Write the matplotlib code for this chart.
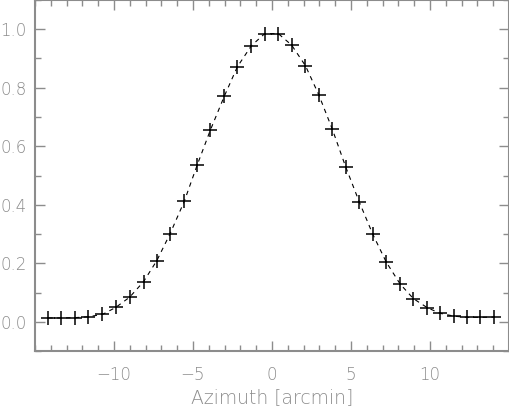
import numpy as np
import matplotlib
matplotlib.use("Agg")
import matplotlib.pyplot as plt
from matplotlib.ticker import MultipleLocator

# Beam profile
azimuth = [-14.16, -13.36, -12.48, -11.64, -10.73, -9.89, -9.01, -8.13, -7.29,
           -6.45, -5.55, -4.74, -3.91, -3.02, -2.19, -1.30, -0.46, 0.40, 1.24,
           2.12, 2.96, 3.82, 4.66, 5.52, 6.38, 7.23, 8.11, 8.95, 9.83, 10.63,
           11.53, 12.35, 13.19, 14.03]
response = [0.013, 0.013, 0.014, 0.017, 0.025, 0.049, 0.084, 0.137, 0.209,
            0.301, 0.412, 0.535, 0.654, 0.771, 0.872, 0.944, 0.985, 0.985,
            0.946, 0.875, 0.776, 0.658, 0.530, 0.410, 0.299, 0.204, 0.129,
            0.079, 0.048, 0.029, 0.019, 0.015, 0.015, 0.016]

grey = "#8c8c8c"

fig = plt.figure(figsize=(5.10, 4.07), dpi=100)
ax = fig.add_axes([35 / 510, 1 - 351 / 407, 474 / 510, 351 / 407])

ax.plot(azimuth, response, color="black", linestyle=(0, (4, 4)), linewidth=0.8)
ax.plot(azimuth, response, linestyle="none", marker="+", markersize=10,
        markeredgewidth=1.1, color="black")

ax.set_xlim(-15, 15)
ax.set_ylim(-0.1, 1.1)
ax.xaxis.set_minor_locator(MultipleLocator(1))
ax.yaxis.set_minor_locator(MultipleLocator(0.1))
ax.set_xticks([-10, -5, 0, 5, 10])
ax.set_yticks([0.0, 0.2, 0.4, 0.6, 0.8, 1.0])
ax.yaxis.set_major_formatter(plt.FormatStrFormatter("%.1f"))

for s in ax.spines.values():
    s.set_color(grey)
    s.set_linewidth(1.5)

ax.tick_params(which="both", direction="in", top=True, right=True,
               color=grey, labelcolor=grey, labelsize=12, width=1.0)
ax.tick_params(which="major", length=7)
ax.tick_params(axis="x", which="major", pad=11)
ax.tick_params(axis="y", which="major", pad=6)
ax.tick_params(which="minor", length=4)
for lab in ax.get_xticklabels() + ax.get_yticklabels():
    lab.set_fontweight("light")

ax.set_xlabel("Azimuth [arcmin]", color=grey, fontsize=13.5, fontweight="light",
              labelpad=3)

fig.savefig("out.png", dpi=100)
